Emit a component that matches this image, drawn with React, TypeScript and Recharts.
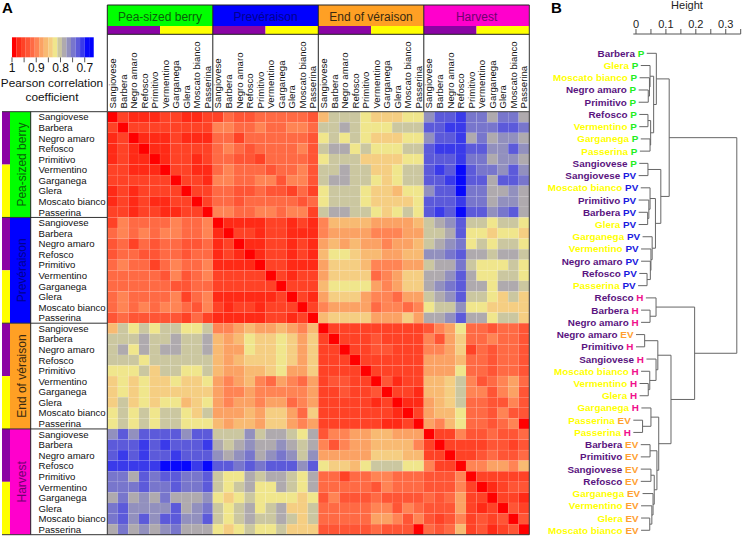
import React from "react";
import { ScatterChart, Scatter, XAxis, YAxis } from "recharts";

// ---- categories ----
const cultivars = ["Sangiovese", "Barbera", "Negro amaro", "Refosco", "Primitivo", "Vermentino", "Garganega", "Glera", "Moscato bianco", "Passerina"];
const redCultivars = ["Sangiovese", "Barbera", "Negro amaro", "Refosco", "Primitivo"];
const stages = ["Pea-sized berry", "Prevéraison", "End of véraison", "Harvest"];

// ---- colour scale: 18 classes from r = 1 down to r = 0.663 ----
const palette = ["#FF0000", "#FF2A16", "#FF4226", "#FF5535", "#FF6A44", "#FF8454", "#FBA264", "#F8BA72", "#F5CE82", "#F0E68C", "#CBC7A0", "#AFAAAE", "#9290BE", "#7876CC", "#5C5ADA", "#3A3AEA", "#0808FC", "#0000FF"];
const rMax = 1;
const rMin = 0.663;
const classWidth = (rMax - rMin) / palette.length;
const colorOf = (r: number) => palette[Math.min(palette.length - 1, Math.floor((rMax - r) / classWidth))];
const codes = "0123456789abcdefgh";
const decode = (c: string) => rMax - (codes.indexOf(c) + 0.5) * classWidth;

// ---- correlation blocks, one string of class codes per row ----
const PP = ["0211122112", "2022222222", "1201112111", "1210112222", "1211012212", "2211102211", "2222220221", "1212222022", "1212112202", "2212211220"];
const VP = ["2544445445", "4545455445", "3424344334", "3443344344", "4544245445", "4444435345", "4444443344", "4544445245", "4545455435", "3433333242"];
const PE = ["7aaa988899", "aaba999aaa", "9a9a988899", "abb9a999aa", "9aaa888899", "aabaa889aa", "abbaa989aa", "9aaa988799", "9aaa988889", "abbaa989a9"];
const PH = ["ceefddbddb", "eeffdddeed", "ceefbdbccb", "efffeeccec", "eeefddbccb", "efegeddcec", "eefgeebeed", "ceegddbbcb", "eeefddbccb", "efegeecdeb"];
const VV = ["0111122121", "1022122111", "1201122121", "1210122121", "1111022111", "2222202122", "2222220222", "1111112021", "2122122202", "1111122120"];
const VE = ["5777766667", "5666655566", "6767665667", "7998776677", "6888755566", "6888845688", "7999965688", "6888655466", "5666645545", "7888866686"];
const VH = ["abceaa9aa9", "aabe998998", "abcd9a9aa9", "ccdebbabba", "abbda999a9", "bbceb99aa9", "bcdebb9bba", "abceaa98a8", "9aac998888", "bbcebb9aa8"];
const EE = ["0222222222", "2022232222", "2202233222", "2220222222", "2222022222", "2332203122", "2232230221", "2222212011", "2222222102", "2222221120"];
const HE = ["3556677666", "5356677775", "6666688877", "98879aaa99", "4424455444", "4444435444", "3533343333", "4444455354", "4444466535", "3333343330"];
const HH = ["0225334334", "2022223323", "2202234334", "5220556657", "3335022222", "3335201233", "4346220221", "3336212032", "3235232303", "4347231230"];

// ---- dendrogram ----
const leafCultivars = ["Barbera", "Glera", "Moscato bianco", "Negro amaro", "Primitivo", "Refosco", "Vermentino", "Garganega", "Passerina", "Sangiovese", "Sangiovese", "Moscato bianco", "Primitivo", "Barbera", "Glera", "Garganega", "Vermentino", "Negro amaro", "Refosco", "Passerina", "Refosco", "Barbera", "Negro amaro", "Negro amaro", "Primitivo", "Sangiovese", "Moscato bianco", "Vermentino", "Glera", "Garganega", "Passerina", "Passerina", "Barbera", "Primitivo", "Sangiovese", "Refosco", "Garganega", "Vermentino", "Glera", "Moscato bianco"];
const leafStages = ["P", "P", "P", "P", "P", "P", "P", "P", "P", "P", "PV", "PV", "PV", "PV", "PV", "PV", "PV", "PV", "PV", "PV", "H", "H", "H", "EV", "H", "H", "H", "H", "H", "H", "EV", "H", "EV", "EV", "EV", "EV", "EV", "EV", "EV", "EV"];
const leafHang = [0.036, 0.016, 0.012, 0.009, 0.009, 0.011, 0.011, 0.016, 0.013, 0.011, 0.009, 0.016, 0.009, 0.009, 0.009, 0.022, 0.017, 0.017, 0.011, 0.007, 0.033, 0.017, 0.017, 0, 0, 0.035, 0.017, 0.012, 0.012, 0.018, -0.009, -0.009, 0.016, 0.016, 0.016, 0.016, 0.022, 0.017, 0.017, 0.017];
// merges: two children (below 100 = leaf, 100+k = k-th merge) and the height of the join
const mergeA = [3, 2, 1, 5, 7, 103, 102, 0, 9, 13, 12, 11, 18, 17, 16, 15, 111, 108, 107, 21, 20, 23, 27, 26, 25, 121, 30, 29, 32, 34, 38, 37, 36, 129, 128, 127, 125, 120, 118];
const mergeB = [4, 100, 101, 6, 8, 104, 105, 106, 10, 14, 109, 110, 19, 112, 113, 114, 115, 116, 117, 22, 119, 24, 28, 122, 123, 124, 31, 126, 33, 35, 39, 130, 131, 132, 133, 134, 135, 136, 137];
const mergeH = [0.041, 0.045, 0.047, 0.04, 0.047, 0.049, 0.059, 0.068, 0.04, 0.039, 0.043, 0.047, 0.037, 0.048, 0.05, 0.054, 0.065, 0.083, 0.111, 0.047, 0.067, 0.029, 0.041, 0.046, 0.067, 0.073, 0.022, 0.05, 0.047, 0.05, 0.046, 0.053, 0.057, 0.061, 0.07, 0.076, 0.117, 0.196, 0.337];
const heightTicks = [0, 0.05, 0.1, 0.15, 0.2, 0.25, 0.3, 0.35];
const legendTicks = [1, 0.95, 0.9, 0.85, 0.8, 0.75, 0.7];

// ---- derived tables for the library ----
const transpose = (b: string[]) => b.map((_, j) => b.map((row) => row[j]).join(""));
const blockGrid = [
  [PP, transpose(VP), PE, PH],
  [VP, VV, VE, VH],
  [transpose(PE), transpose(VE), EE, transpose(HE)],
  [transpose(PH), transpose(VH), HE, HH],
];
const heatData: { x: number; y: number; r: number }[] = [];
for (let i = 0; i < 40; i++) {
  for (let j = 0; j < 40; j++) {
    const code = blockGrid[Math.floor(i / 10)][Math.floor(j / 10)][i % 10][j % 10];
    heatData.push({ x: j + 0.5, y: i + 0.5, r: decode(code) });
  }
}
const legendData = palette.map((_, k) => ({ x: rMax - (k + 0.5) * classWidth, y: 0.5, r: rMax - (k + 0.5) * classWidth }));

const nodePos: Record<number, { h: number; y: number }> = {};
leafHang.forEach((h, i) => (nodePos[i] = { h, y: i }));
const mergeLines = mergeH.map((h, k) => {
  const a = nodePos[mergeA[k]];
  const b = nodePos[mergeB[k]];
  nodePos[100 + k] = { h, y: (a.y + b.y) / 2 };
  return [a, { h, y: a.y }, { h, y: b.y }, b];
});
const leafData = leafHang.map((h, i) => ({ h, y: i, name: leafCultivars[i], stage: leafStages[i] }));

// ---- styling and layout ----
const W = 742;
const H = 536;
const SANS = "'Liberation Sans', Arial, sans-serif";
const X0 = 107.3, X1 = 529.3, Y0 = 111.7, Y1 = 534.7;
const CELL_W = (X1 - X0) / 40;
const CELL_H = (Y1 - Y0) / 40;
const BLOCK_W = CELL_W * 10;
const BLOCK_H = CELL_H * 10;
const PURPLE = "#8A04A4";
const YELLOW = "#FFFF00";
const stageFill = ["#00FF00", "#0000FF", "#FFA024", "#FF00CC"];
const stageInk = ["#0A600A", "#000090", "#3A2A10", "#700070"];
const leafStageColor: Record<string, string> = { P: "#22EE22", PV: "#1818E0", EV: "#FFA030", H: "#F0108C" };
const layer: React.CSSProperties = { position: "absolute", left: 0, top: 0 };

const HeatCell = (p: any) => (
  <rect x={p.cx - CELL_W / 2} y={p.cy - CELL_H / 2} width={CELL_W} height={CELL_H} fill={colorOf(p.payload.r)} stroke="rgba(255,255,255,0.1)" strokeWidth={0.5} />
);
const LegendCell = (p: any) => (
  <rect x={p.cx - 2.3} y={p.cy - 10} width={4.6} height={20} fill={colorOf(p.payload.r)} />
);
const NoPoint = () => null;
const LeafLabel = (p: any) => (
  <text x={p.cx - 2.5} y={p.cy + 3.5} textAnchor="end" fontFamily={SANS} fontWeight="bold" fontSize={9.9}>
    <tspan fill={redCultivars.includes(p.payload.name) ? "#5A1480" : YELLOW}>{p.payload.name} </tspan>
    <tspan fill={leafStageColor[p.payload.stage]}>{p.payload.stage}</tspan>
  </text>
);

const Annotations = () => (
  <svg width={W} height={H} style={{ ...layer, pointerEvents: "none" }} fontFamily={SANS}>
    <text x={2} y={13} fontSize={15} fontWeight="bold" fill="#000">A</text>
    <text x={551} y={13} fontSize={15} fontWeight="bold" fill="#000">B</text>
    <text x={687} y={9} fontSize={11} textAnchor="middle" fill="#222">Height</text>
    <text x={52} y={87} fontSize={11.8} textAnchor="middle" fill="#111">Pearson correlation</text>
    <text x={52} y={100.5} fontSize={11.8} textAnchor="middle" fill="#111">coefficient</text>
    {stages.map((s, b) => {
      const x = X0 + b * BLOCK_W;
      const y = Y0 + b * BLOCK_H;
      return (
        <g key={s}>
          <rect x={x} y={5} width={BLOCK_W} height={21} fill={stageFill[b]} />
          <text x={x + BLOCK_W / 2} y={20.5} fontSize={12} textAnchor="middle" fill={stageInk[b]}>{s}</text>
          <rect x={x} y={26} width={BLOCK_W / 2} height={8.3} fill={PURPLE} />
          <rect x={x + BLOCK_W / 2} y={26} width={BLOCK_W / 2} height={8.3} fill={YELLOW} />
          <rect x={2} y={y} width={8} height={BLOCK_H / 2} fill={PURPLE} />
          <rect x={2} y={y + BLOCK_H / 2} width={8} height={BLOCK_H / 2} fill={YELLOW} />
          <rect x={10} y={y} width={20.7} height={BLOCK_H} fill={stageFill[b]} />
          <text transform={`translate(25.5,${y + BLOCK_H / 2}) rotate(-90)`} fontSize={12} textAnchor="middle" fill={stageInk[b]}>{s}</text>
          {cultivars.map((c, i) => (
            <g key={c}>
              <text x={38.5} y={y + (i + 0.5) * CELL_H + 3.4} fontSize={9.6} fill="#111">{c}</text>
              <text transform={`translate(${x + (i + 0.5) * CELL_W + 3.4},108.5) rotate(-90)`} fontSize={9.6} fill="#111">{c}</text>
            </g>
          ))}
          <line x1={x} x2={x} y1={5} y2={Y0} stroke="#222" strokeWidth={1} />
          <line x1={2} x2={X0} y1={y} y2={y} stroke="#333" strokeWidth={1} />
        </g>
      );
    })}
    <line x1={X1} x2={X1} y1={5} y2={Y1} stroke="#333" strokeWidth={1} />
    <line x1={X0} x2={X0} y1={Y0} y2={Y1} stroke="#333" strokeWidth={1} />
    <line x1={30.7} x2={30.7} y1={Y0} y2={Y1} stroke="#222" strokeWidth={1} />
    <line x1={X0} x2={X1} y1={5} y2={5} stroke="#222" strokeWidth={1} />
    <line x1={X0} x2={X1} y1={34.3} y2={34.3} stroke="#222" strokeWidth={1} />
    <line x1={X0} x2={X1} y1={Y0} y2={Y0} stroke="#444" strokeWidth={1} />
    <line x1={2} x2={X1} y1={Y1} y2={Y1} stroke="#333" strokeWidth={1} />
  </svg>
);

export default function App() {
  return (
    <div style={{ position: "absolute", left: 0, top: 0, width: W, height: H, background: "#fff", overflow: "hidden" }}>
      <div style={layer}>
        <ScatterChart width={W} height={H} margin={{ top: Y0, left: X0, right: W - X1, bottom: H - Y1 }}>
          <XAxis type="number" dataKey="x" domain={[0, 40]} hide />
          <YAxis type="number" dataKey="y" domain={[0, 40]} reversed hide />
          <Scatter data={heatData} shape={HeatCell} isAnimationActive={false} />
        </ScatterChart>
      </div>
      <div style={layer}>
        <ScatterChart width={W} height={H} margin={{ top: 4, left: 633.3, right: 1.3, bottom: 1 }}>
          <XAxis type="number" orientation="top" dataKey="h" domain={[0, 0.35]} ticks={heightTicks} height={30} interval={0} stroke="#555" tickSize={5} tickMargin={1}
            tick={{ fontSize: 11, fontFamily: SANS, fill: "#222" }} tickFormatter={(v: number) => (Math.abs(v * 10 - Math.round(v * 10)) < 1e-6 ? String(v) : "")} />
          <YAxis type="number" dataKey="y" domain={[-1.578, 39.387]} reversed hide />
          {mergeLines.map((pts, k) => (
            <Scatter key={k} data={pts} line={{ stroke: "#666", strokeWidth: 1 }} shape={NoPoint} isAnimationActive={false} />
          ))}
          <Scatter data={leafData} shape={LeafLabel} isAnimationActive={false} />
        </ScatterChart>
      </div>
      <div style={layer}>
        <ScatterChart width={110} height={76} margin={{ top: 37.3, left: 12, right: 16.3, bottom: 0 }}>
          <XAxis type="number" dataKey="x" domain={[rMin, rMax]} reversed ticks={legendTicks} interval={0} height={18.7} axisLine={false} stroke="#555" tickSize={5} tickMargin={1}
            tick={{ fontSize: 12, fontFamily: SANS, fill: "#111" }} tickFormatter={(v: number) => (v === 0.95 || v === 0.85 || v === 0.75 ? "" : String(v))} />
          <YAxis type="number" dataKey="y" domain={[0, 1]} hide />
          <Scatter data={legendData} shape={LegendCell} isAnimationActive={false} />
        </ScatterChart>
      </div>
      <Annotations />
    </div>
  );
}
